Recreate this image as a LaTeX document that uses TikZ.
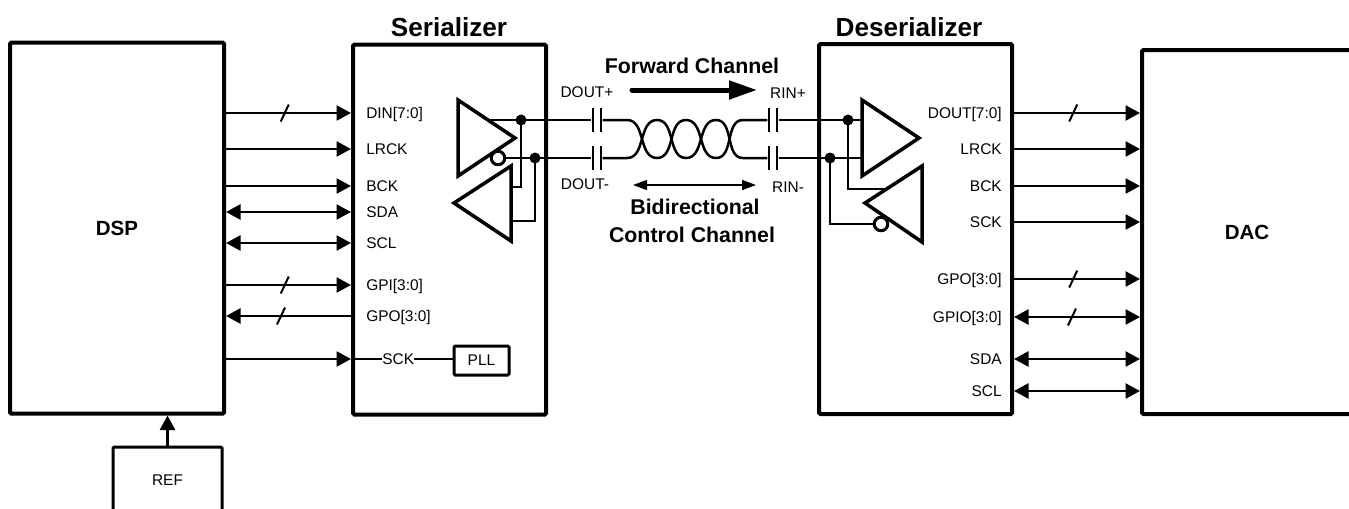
\documentclass[tikz,border=0pt]{standalone}
\usepackage{fontspec}
\setmainfont{Liberation Sans}
\usepackage{tikz}
\usetikzlibrary{arrows.meta}
\def\px{.75pt}
\tikzset{>/.tip={Triangle[length=14.5*\px,width=15*\px]}}
\tikzset{
  blockbox/.style={draw,line width=4*\px,rounded corners=1pt,font=\fontsize{15.4}{18}\selectfont\bfseries},
  smallbox/.style={draw,line width=3*\px,rounded corners=1pt,font=\fontsize{11.6}{14}\selectfont},
  pinlabel/.style={inner sep=0pt,text height=8pt,text depth=0pt,font=\fontsize{11.6}{14}\selectfont},
  heading/.style={inner sep=0pt,font=\fontsize{16}{20}\selectfont\bfseries},
  title/.style={inner sep=0pt,font=\fontsize{19.6}{22}\selectfont\bfseries},
  sig/.style={line width=2.5*\px},
  wire/.style={line width=2.5*\px},
  gate/.style={line width=3.5*\px,line join=miter},
  wiredot/.style={circle,fill=black,inner sep=0pt,minimum size=11*\px},
  invbubble/.style={circle,draw,fill=white,line width=3*\px,inner sep=0pt,minimum size=13.5*\px},
  capplate/.style={fill=black,inner sep=0pt,minimum width=2.5*\px,minimum height=24*\px},
  busmark/.pic={\draw[-,line width=2*\px] (-4,8.5) -- (4,-8.5);}
}
\begin{document}
\begin{tikzpicture}[x=.75pt,y=-.75pt]
  \useasboundingbox (0,0) rectangle (1349,508);
  % blocks
  \node(dsp)[blockbox,minimum width=214*\px,minimum height=371*\px] at (117,228){DSP};
  \node(ser)[blockbox,minimum width=193*\px,minimum height=370*\px] at (449.5,229.5){};
  \node(des)[blockbox,minimum width=193*\px,minimum height=370*\px] at (915.5,229){};
  \node(dac)[blockbox,minimum width=210*\px,minimum height=364*\px] at (1247,232){DAC};
  \node(ref)[smallbox,minimum width=109*\px,minimum height=66*\px] at (167.5,480){REF};
  \node(pll)[smallbox,minimum width=55*\px,minimum height=29*\px] at (481.5,360.5){PLL};
  \node(sertitle)[title] at (449,27){Serializer};
  \node(destitle)[title] at (909,27){Deserializer};
  % serializer pins
  \node(din)[pinlabel,anchor=west] at (366,113){DIN[7:0]};
  \node(slrck)[pinlabel,anchor=west] at (366,149){LRCK};
  \node(sbck)[pinlabel,anchor=west] at (366,186){BCK};
  \node(ssda)[pinlabel,anchor=west] at (366,212){SDA};
  \node(sscl)[pinlabel,anchor=west] at (366,243){SCL};
  \node(gpi)[pinlabel,anchor=west] at (366,285){GPI[3:0]};
  \node(sgpo)[pinlabel,anchor=west] at (366,316){GPO[3:0]};
  \node(ssck)[pinlabel,anchor=west] at (382,359){SCK};
  % deserializer pins
  \node(dout)[pinlabel,anchor=east] at (1002,113){DOUT[7:0]};
  \node(dlrck)[pinlabel,anchor=east] at (1002,149){LRCK};
  \node(dbck)[pinlabel,anchor=east] at (1002,186){BCK};
  \node(dsck)[pinlabel,anchor=east] at (1002,222){SCK};
  \node(dgpo)[pinlabel,anchor=east] at (1002,279){GPO[3:0]};
  \node(gpio)[pinlabel,anchor=east] at (1002,317){GPIO[3:0]};
  \node(dsda)[pinlabel,anchor=east] at (1002,359){SDA};
  \node(dscl)[pinlabel,anchor=east] at (1002,391){SCL};
  % channel labels
  \node(doutp)[pinlabel] at (587,92){DOUT+};
  \node(doutm)[pinlabel] at (585,184){DOUT-};
  \node(rinp)[pinlabel] at (788,93){RIN+};
  \node(rinm)[pinlabel] at (788,187){RIN-};
  \node(fwd)[heading] at (692,66){Forward Channel};
  \node(bidir)[heading] at (695,207){Bidirectional};
  \node(ctrl)[heading] at (692,235){Control Channel};
  % left signals
  \draw[sig,->] (dsp.east |- din) -- pic[pos=.47]{busmark} (ser.west |- din);
  \draw[sig,->] (dsp.east |- gpi) -- pic[pos=.47]{busmark} (ser.west |- gpi);
  \draw[sig,<-] (dsp.east |- sgpo) -- pic[pos=.44]{busmark} (ser.west |- sgpo);
  \draw[sig]
   (dsp.east |- slrck) edge[->] (ser.west |- slrck)
   (dsp.east |- sbck) edge[->] (ser.west |- sbck)
   (dsp.east |- ssck) edge[->] (ser.west |- ssck)
   (dsp.east |- ssda) edge[<->] (ser.west |- ssda)
   (dsp.east |- sscl) edge[<->] (ser.west |- sscl);
  \draw[line width=1.5*\px]
   (ser.west |- ssck) edge (ssck.west)
   (ssck.east) edge (pll.west |- ssck);
  \draw[sig,->] (ref.north) -- (dsp.south -| ref.north);
  % right signals
  \draw[sig,->] (des.east |- dout) -- pic[pos=.47]{busmark} (dac.west |- dout);
  \draw[sig,->] (des.east |- dgpo) -- pic[pos=.47]{busmark} (dac.west |- dgpo);
  \draw[sig,<->] (des.east |- gpio) -- pic[pos=.46]{busmark} (dac.west |- gpio);
  \draw[sig]
   (des.east |- dlrck) edge[->] (dac.west |- dlrck)
   (des.east |- dbck) edge[->] (dac.west |- dbck)
   (des.east |- dsck) edge[->] (dac.west |- dsck)
   (des.east |- dsda) edge[<->] (dac.west |- dsda)
   (des.east |- dscl) edge[<->] (dac.west |- dscl);
  % capacitors
  \node(sca)[capplate] at (593,120){};
  \node(scb)[capplate] at (601,120){};
  \node(scc)[capplate] at (593,158){};
  \node(scd)[capplate] at (601,158){};
  \node(dca)[capplate] at (769,120){};
  \node(dcb)[capplate] at (777,120){};
  \node(dcc)[capplate] at (769,158){};
  \node(dcd)[capplate] at (777,158){};
  % serializer gates
  \node(sdota)[wiredot] at (521,120){};
  \node(sdotb)[wiredot] at (535,158){};
  \coordinate(stxout) at (488,120);
  \draw[gate] (458,100) -- (515,138) -- (458,176) -- cycle;
  \draw[gate] (511,166) -- (454,203) -- (511,241) -- cycle;
  \node(sbub)[invbubble] at (498,158){};
  \draw[wire] (stxout) -- (sca.west);
  \draw[wire] (sbub.east) -- (scc.west);
  \draw[wire] (sdota.center) |- (511,187);
  \draw[wire] (sdotb.center) |- (511,221);
  % deserializer gates
  \node(ddota)[wiredot] at (848,120){};
  \node(ddotb)[wiredot] at (830,158){};
  \draw[gate] (862,100) -- (919,138) -- (862,176) -- cycle;
  \draw[gate] (922,166) -- (865,203) -- (922,242) -- cycle;
  \node(dbub)[invbubble] at (881,224){};
  \draw[wire] (dcb.east) -- (862,120);
  \draw[wire] (dcd.east) -- (862,158);
  \draw[wire] (ddota.center) |- (887,189);
  \draw[wire] (ddotb.center) |- (dbub.west);
  % twisted pair
  \draw[wire] (scb.east) -- (627,120) to[out=0,in=180] (657,158) to[out=0,in=180] (686,120)
   to[out=0,in=180] (716,158) to[out=0,in=180] (743,120) -- (dca.west);
  \draw[wire] (scd.east) -- (627,158) to[out=0,in=180] (657,120) to[out=0,in=180] (686,158)
   to[out=0,in=180] (716,120) to[out=0,in=180] (743,158) -- (dcc.west);
  % channel arrows
  \coordinate(fwdstart) at (632,90);
  \coordinate(fwdend) at (757,90);
  \coordinate(bistart) at (633,185);
  \coordinate(biend) at (756,185);
  \draw[line width=5*\px,line cap=round,-{Triangle[length=28*\px,width=18*\px]}] (fwdstart) -- (fwdend);
  \draw[line width=1.5*\px,{Triangle[length=14*\px,width=10*\px]}-{Triangle[length=14*\px,width=10*\px]}] (bistart) -- (biend);
\end{tikzpicture}
\end{document}
